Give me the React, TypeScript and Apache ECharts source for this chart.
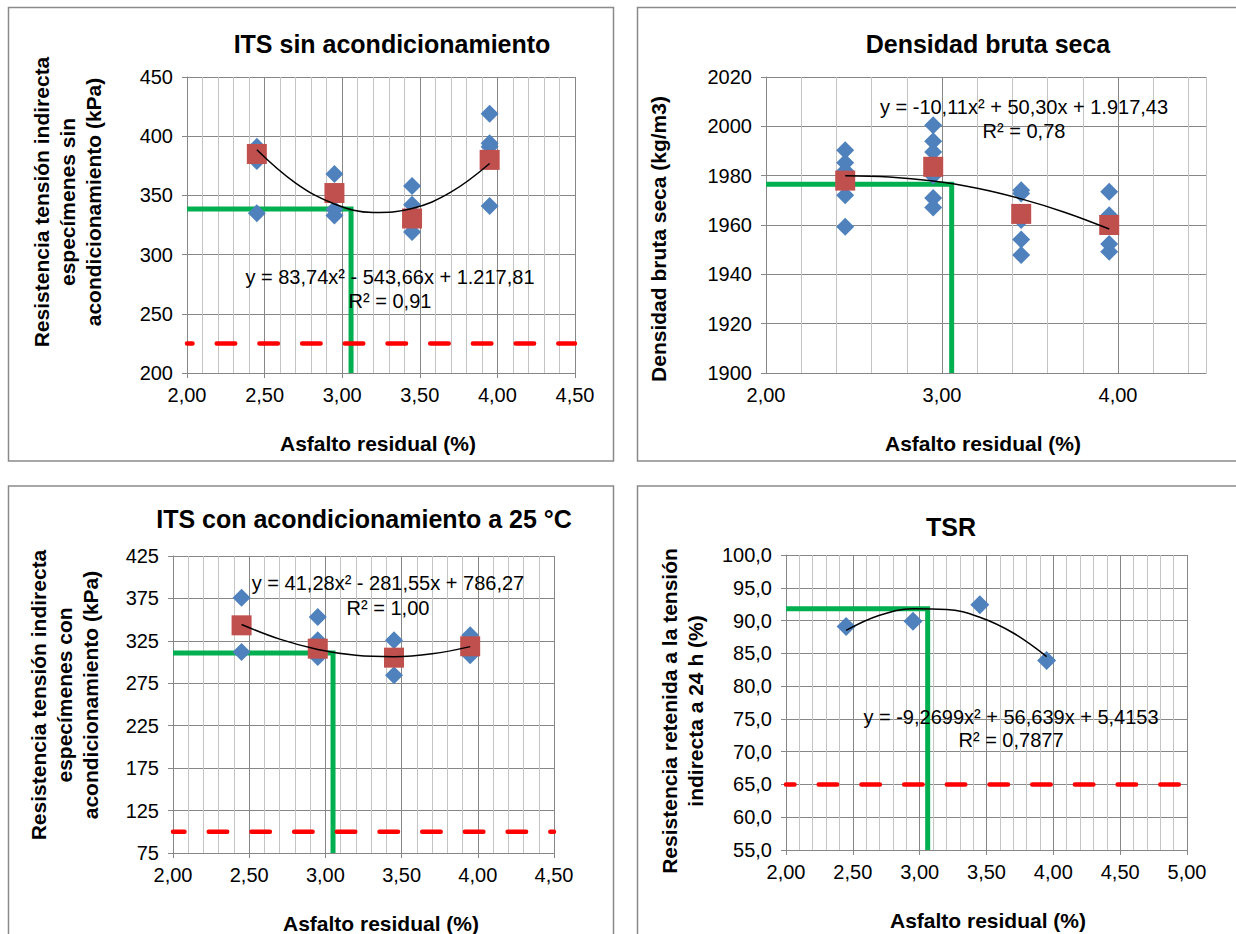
import React, { useEffect, useRef } from 'react';
import * as echarts from 'echarts';

const FONT = '"Liberation Sans", Arial, Helvetica, sans-serif';

// ---------- Panel 1: ITS sin acondicionamiento ----------
const itsSinX = [2.45, 2.45, 2.45, 2.95, 2.95, 2.95, 3.45, 3.45, 3.45, 3.95, 3.95, 3.95, 3.95];
const itsSinY = [391, 379, 335, 368, 338, 333, 358, 342, 319, 419, 394, 391, 341];
const itsSinMeanX = [2.45, 2.95, 3.45, 3.95];
const itsSinMeanY = [385, 352, 330.5, 380];
const trendX = [2.45, 2.7, 2.95, 3.2, 3.45, 3.7, 3.95];
const itsSinTrendY = [388.5, 360.4, 342.8, 335.6, 338.9, 352.7, 376.9];
const itsSinOptimo = [3.057, 338.5];
const itsSinLimite = 225;

// ---------- Panel 2: Densidad bruta seca ----------
const densX = [2.45, 2.45, 2.45, 2.45, 2.45, 2.95, 2.95, 2.95, 2.95, 2.95, 2.95, 3.45, 3.45, 3.45, 3.45, 3.45, 3.95, 3.95, 3.95, 3.95];
const densY = [1990.3, 1985.2, 1982, 1972.1, 1959.3, 2000.4, 1994, 1989.6, 1980, 1970.9, 1967.1, 1974.1, 1972.8, 1962, 1954.1, 1947.8, 1973.5, 1964, 1952.3, 1949.2];
const densMeanX = [2.45, 2.95, 3.45, 3.95];
const densMeanY = [1978, 1983.6, 1964.5, 1960];
const densTrendY = [1980.0, 1979.5, 1977.8, 1974.9, 1970.6, 1965.1, 1958.4];
const densOptimo = [3.055, 1976.5];

// ---------- Panel 3: ITS con acondicionamiento a 25 °C ----------
const itsConX = [2.45, 2.45, 2.95, 2.95, 2.95, 3.45, 3.45, 3.45, 3.95, 3.95];
const itsConY = [375.9, 311.9, 353.1, 325.6, 306, 325.6, 306, 284.4, 331.5, 308];
const itsConMeanX = [2.45, 2.95, 3.45, 3.95];
const itsConMeanY = [343.3, 315.8, 305.2, 318.6];
const itsConTrendY = [344.3, 327.0, 314.9, 308.0, 306.3, 309.7, 318.2];
const itsConOptimo = [3.05, 310.7];
const itsConLimite = 100;

// ---------- Panel 4: TSR ----------
const tsrX = [2.45, 2.95, 3.45, 3.95];
const tsrY = [89.1, 89.9, 92.4, 83.9];
const tsrTrendY = [88.5, 90.8, 91.8, 91.7, 90.5, 88.1, 84.5];
const tsrOptimo = [3.06, 91.8];
const tsrLimite = 65;

// ---------- Texts ----------
const titles = ['ITS sin acondicionamiento', 'Densidad bruta seca', 'ITS con acondicionamiento a 25 °C', 'TSR'];
const xNames = ['Asfalto residual (%)', 'Asfalto residual (%)', 'Asfalto residual (%)', 'Asfalto residual (%)'];
const yNames = [
  'Resistencia tensión indirecta\nespecímenes sin\nacondicionamiento (kPa)',
  'Densidad bruta seca (kg/m3)',
  'Resistencia tensión indirecta\nespecímenes con\nacondicionamiento (kPa)',
  'Resistencia retenida a la tensión\nindirecta a 24 h (%)',
];
const equations = [
  ['y = 83,74x² - 543,66x + 1.217,81', 'R² = 0,91'],
  ['y = -10,11x² + 50,30x + 1.917,43', 'R² = 0,78'],
  ['y = 41,28x² - 281,55x + 786,27', 'R² = 1,00'],
  ['y = -9,2699x² + 56,639x + 5,4153', 'R² = 0,7877'],
];

const zip = (xs: number[], ys: number[]) => xs.map((x, i) => [x, ys[i]]);
const comma = (v: number, d: number) => v.toFixed(d).replace('.', ',');

const MAJOR = '#878787';
const MINOR = '#c4c4c4';

type Panel = {
  grid: { left: number; top: number; width: number; height: number };
  x: { min: number; max: number; interval: number; cycle?: boolean };
  y: { min: number; max: number; interval: number; dec: number };
  dots: number[][];
  means?: number[][];
  trend: number[][];
  optimo: number[];
  limite?: number;
  dashOffset?: number;
  title: [number, number];
  xName: [number, number];
  yName: [number, number];
  eq: [number, number, number];
  diamond: number;
};

const panels: Panel[] = [
  {
    grid: { left: 187, top: 77, width: 388, height: 296 },
    x: { min: 2, max: 4.5, interval: 0.5 },
    y: { min: 200, max: 450, interval: 50, dec: 0 },
    dots: zip(itsSinX, itsSinY),
    means: zip(itsSinMeanX, itsSinMeanY),
    trend: zip(trendX, itsSinTrendY),
    optimo: itsSinOptimo,
    limite: itsSinLimite,
    dashOffset: 13.45,
    title: [392, 44],
    xName: [378, 443],
    yName: [67, 202],
    eq: [390, 277, 301],
    diamond: 18,
  },
  {
    grid: { left: 766, top: 77, width: 440, height: 296 },
    x: { min: 2, max: 4.5, interval: 0.2, cycle: true },
    y: { min: 1900, max: 2020, interval: 20, dec: 0 },
    dots: zip(densX, densY),
    means: zip(densMeanX, densMeanY),
    trend: zip(trendX, densTrendY),
    optimo: densOptimo,
    title: [988, 44],
    xName: [983, 443],
    yName: [658, 239],
    eq: [1024, 107, 131],
    diamond: 18,
  },
  {
    grid: { left: 173, top: 556, width: 381, height: 297 },
    x: { min: 2, max: 4.5, interval: 0.5 },
    y: { min: 75, max: 425, interval: 50, dec: 0 },
    dots: zip(itsConX, itsConY),
    means: zip(itsConMeanX, itsConMeanY),
    trend: zip(trendX, itsConTrendY),
    optimo: itsConOptimo,
    limite: itsConLimite,
    dashOffset: 7.05,
    title: [364, 519],
    xName: [381, 923],
    yName: [64, 695],
    eq: [388, 583, 608],
    diamond: 18,
  },
  {
    grid: { left: 786, top: 555, width: 401, height: 295 },
    x: { min: 2, max: 5, interval: 0.5 },
    y: { min: 55, max: 100, interval: 5, dec: 1 },
    dots: zip(tsrX, tsrY),
    trend: zip(trendX, tsrTrendY),
    optimo: tsrOptimo,
    limite: tsrLimite,
    dashOffset: 10.05,
    title: [951, 527],
    xName: [988, 920],
    yName: [682, 711],
    eq: [1011, 717, 740],
    diamond: 19,
  },
];

function buildOption() {
  const grid: any[] = [];
  const xAxis: any[] = [];
  const yAxis: any[] = [];
  const series: any[] = [];
  const graphic: any[] = [];

  // panel frames
  const frames = [
    [8.5, 7.5, 605, 453.5],
    [637.5, 7.5, 620, 453.5],
    [8.5, 486, 605, 470],
    [637.5, 486, 620, 470],
  ];
  frames.forEach(([x, y, w, h]) => {
    graphic.push({
      type: 'rect',
      silent: true,
      shape: { x, y, width: w, height: h },
      style: { fill: 'rgba(0,0,0,0)', stroke: '#8a8a8a', lineWidth: 1.5 },
    });
  });

  panels.forEach((p, i) => {
    grid.push({ ...p.grid, containLabel: false });
    const labelStyle = { color: '#000', fontSize: 20, fontFamily: FONT };
    xAxis.push({
      type: 'value',
      gridIndex: i,
      min: p.x.min,
      max: p.x.max,
      interval: p.x.interval,
      axisLine: { show: true, lineStyle: { color: MAJOR, width: 1 } },
      axisTick: { show: !p.x.cycle, length: 5, lineStyle: { color: MAJOR } },
      axisLabel: {
        ...labelStyle,
        margin: 12,
        formatter: (v: number) =>
          p.x.cycle ? (Math.abs(v - Math.round(v)) < 1e-6 ? comma(v, 2) : '') : comma(v, 2),
      },
      splitLine: {
        show: true,
        lineStyle: { color: p.x.cycle ? [MAJOR, MINOR, MINOR, MINOR, MINOR] : MAJOR, width: 1 },
      },
      minorTick: { show: false, splitNumber: 5 },
      minorSplitLine: { show: !p.x.cycle, lineStyle: { color: MINOR, width: 1 } },
    });
    yAxis.push({
      type: 'value',
      gridIndex: i,
      min: p.y.min,
      max: p.y.max,
      interval: p.y.interval,
      axisLine: { show: true, lineStyle: { color: MAJOR, width: 1 } },
      axisTick: { show: true, length: 5, lineStyle: { color: MAJOR } },
      axisLabel: { ...labelStyle, margin: 14, formatter: (v: number) => comma(v, p.y.dec) },
      splitLine: { show: true, lineStyle: { color: MAJOR, width: 1 } },
    });

    const [ox, oy] = p.optimo;
    series.push({
      type: 'line',
      xAxisIndex: i,
      yAxisIndex: i,
      data: [[p.x.min, oy], [ox, oy], [ox, p.y.min]],
      symbol: 'none',
      lineStyle: { color: '#00B050', width: 5, join: 'miter' },
      z: 2,
      silent: true,
    });
    if (p.limite !== undefined) {
      series.push({
        type: 'line',
        xAxisIndex: i,
        yAxisIndex: i,
        data: [[p.x.min, p.limite], [p.x.max, p.limite]],
        symbol: 'none',
        lineStyle: { color: '#FF0000', width: 4.5, type: [18.5, 24.2], dashOffset: p.dashOffset, cap: 'round' },
        z: 3,
        silent: true,
      });
    }
    series.push({
      type: 'scatter',
      xAxisIndex: i,
      yAxisIndex: i,
      data: p.dots,
      symbol: 'diamond',
      symbolSize: p.diamond,
      itemStyle: { color: '#4F81BD', opacity: 1 },
      z: 4,
    });
    if (p.means) {
      series.push({
        type: 'scatter',
        xAxisIndex: i,
        yAxisIndex: i,
        data: p.means,
        symbol: 'rect',
        symbolSize: 20,
        itemStyle: { color: '#C0504D', opacity: 1 },
        z: 5,
      });
    }
    series.push({
      type: 'line',
      xAxisIndex: i,
      yAxisIndex: i,
      data: p.trend,
      smooth: 0.4,
      symbol: 'none',
      lineStyle: { color: '#000', width: 1.5 },
      z: 6,
      silent: true,
    });

    graphic.push({
      type: 'text',
      x: p.title[0],
      y: p.title[1],
      silent: true,
      style: { text: titles[i], fill: '#000', font: `bold 25px ${FONT}`, align: 'center', verticalAlign: 'middle' },
    });
    graphic.push({
      type: 'text',
      x: p.xName[0],
      y: p.xName[1],
      silent: true,
      style: { text: xNames[i], fill: '#000', font: `bold 21px ${FONT}`, align: 'center', verticalAlign: 'middle' },
    });
    graphic.push({
      type: 'text',
      x: p.yName[0],
      y: p.yName[1],
      rotation: Math.PI / 2,
      silent: true,
      style: {
        text: yNames[i],
        fill: '#000',
        font: `bold 21px ${FONT}`,
        lineHeight: 26,
        align: 'center',
        verticalAlign: 'middle',
      },
    });
    graphic.push({
      type: 'text',
      x: p.eq[0],
      y: p.eq[1],
      silent: true,
      z: 100,
      style: { text: equations[i][0], fill: '#000', font: `20px ${FONT}`, align: 'center', verticalAlign: 'middle' },
    });
    graphic.push({
      type: 'text',
      x: p.eq[0],
      y: p.eq[2],
      silent: true,
      z: 100,
      style: { text: equations[i][1], fill: '#000', font: `20px ${FONT}`, align: 'center', verticalAlign: 'middle' },
    });
  });

  return {
    animation: false,
    backgroundColor: '#fff',
    grid,
    xAxis,
    yAxis,
    series,
    graphic,
  };
}

export default function App() {
  const ref = useRef<HTMLDivElement>(null);
  useEffect(() => {
    document.body.style.margin = '0';
    const chart = echarts.init(ref.current as HTMLDivElement, null, { renderer: 'svg' });
    chart.setOption(buildOption() as any);
    return () => chart.dispose();
  }, []);
  return <div ref={ref} style={{ width: 1236, height: 934 }} />;
}
